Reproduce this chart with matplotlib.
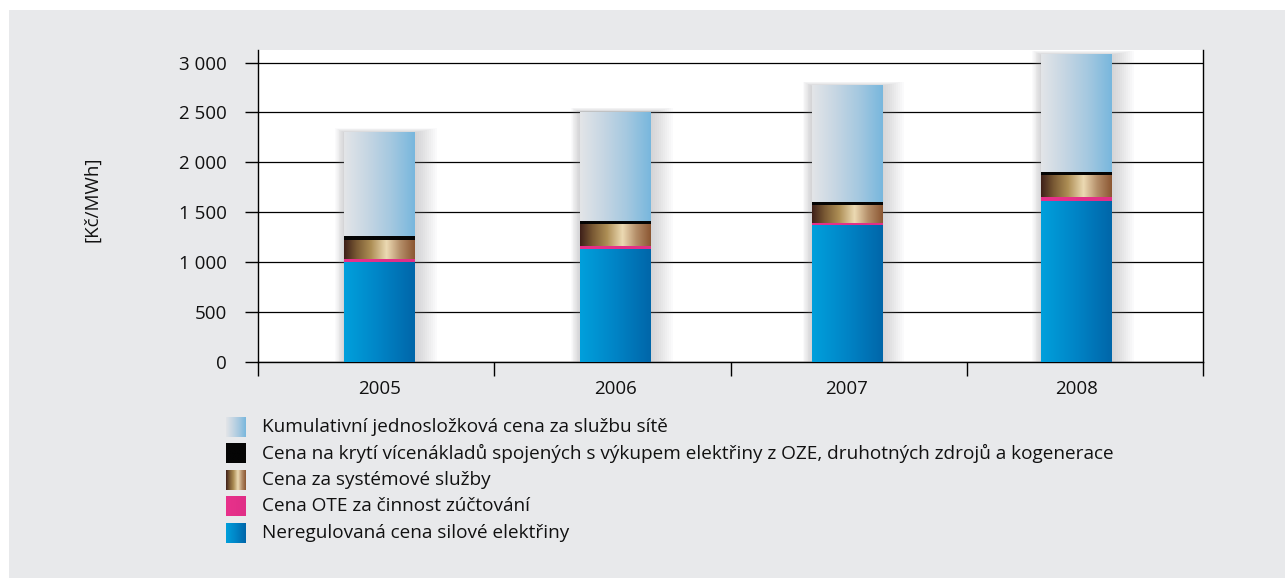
import matplotlib
matplotlib.use("Agg")
import matplotlib.pyplot as plt
import matplotlib.patches as mp
from matplotlib.colors import LinearSegmentedColormap
from matplotlib.ticker import FuncFormatter, FixedLocator
import numpy as np

plt.rcParams.update({
    "font.family": ["Open Sans", "DejaVu Sans"],
    "font.size": 13,
})

# ── Data (Kč/MWh) ────────────────────────────────────────────
years = ["2005", "2006", "2007", "2008"]
silova = [1000, 1131, 1372, 1612]     # Neregulovaná cena silové elektřiny
ote = [33, 33, 17, 44]                # Cena OTE za činnost zúčtování
systemove = [188, 218, 186, 217]      # Cena za systémové služby
oze = [43, 30, 27, 30]                # Cena na krytí vícenákladů ... OZE
site = [1034, 1093, 1164, 1174]       # Kumulativní jednosložková cena za službu sítě

labels = [
    "Kumulativní jednosložková cena za službu sítě",
    "Cena na krytí vícenákladů spojených s výkupem elektřiny z OZE, druhotných zdrojů a kogenerace",
    "Cena za systémové služby",
    "Cena OTE za činnost zúčtování",
    "Neregulovaná cena silové elektřiny",
]

# ── Gradient colour maps ─────────────────────────────────────
cm_blue = LinearSegmentedColormap.from_list("b", ["#00a0dc", "#0084c6", "#0066a9"])
cm_site = LinearSegmentedColormap.from_list("s", ["#e3e5e8", "#c6d6e3", "#a4c8e0", "#78b7dd"])
cm_brown = LinearSegmentedColormap.from_list("br", [
    (0.0, "#3e2019"), (0.18, "#7a5a34"), (0.38, "#ad8e55"), (0.6, "#ecdab3"),
    (0.8, "#b38c67"), (1.0, "#8b5632")])
cm_black = LinearSegmentedColormap.from_list("k", ["#050505", "#050505"])
cm_pink = LinearSegmentedColormap.from_list("p", ["#e8318b", "#e02f87"])

series = [
    (silova, cm_blue),
    (ote, cm_pink),
    (systemove, cm_brown),
    (oze, cm_black),
    (site, cm_site),
]
legend_maps = [cm_site, cm_black, cm_brown, cm_pink, cm_blue]

W, H = 1285, 578
fig = plt.figure(figsize=(W / 100, H / 100), dpi=100, facecolor="white")
fig.add_artist(mp.Rectangle((9 / W, 0), 1, 1 - 10 / H, transform=fig.transFigure,
                            facecolor="#e8e9eb", edgecolor="none", zorder=-5))

ax = fig.add_axes([258 / W, 1 - 361.7 / H, 945 / W, 311.7 / H])
ax.set_facecolor("white")

YMAX = 3127
x = np.arange(len(years))
# bars are not exactly centred in their slots in the original
xpos = x + np.array([0.015, 0.012, -0.007, -0.035])
bw = 0.30
grad = np.linspace(0, 1, 256).reshape(1, -1)

px_x = 945 / 4.0          # pixels per category unit
px_y = 311.7 / YMAX       # pixels per Kč/MWh

bottom = np.zeros(len(years))
for vals, cmap in series:
    bars = ax.bar(xpos, vals, bw, bottom=bottom, color="none", edgecolor="none", zorder=4)
    for b in bars:
        x0, y0 = b.get_x(), b.get_y()
        ax.imshow(grad, cmap=cmap, aspect="auto", zorder=4,
                  extent=(x0, x0 + b.get_width(), y0, y0 + b.get_height()))
    bottom = bottom + np.array(vals)

# soft drop shadows behind bars
for xi, top in zip(xpos, bottom):
    for k in range(1, 12):
        e = 2.0 * k
        ax.add_patch(mp.Rectangle((xi - bw / 2 - (e * 0.4) / px_x, 0),
                                  bw + (e * 1.4) / px_x, top + (e * 0.2) / px_y,
                                  facecolor="#8a8c90", edgecolor="none",
                                  alpha=0.035, zorder=3))

ax.set_xlim(-0.5, 3.5)
ax.set_ylim(0, YMAX)

ax.yaxis.set_major_locator(FixedLocator(np.arange(0, 3001, 500)))
ax.yaxis.set_major_formatter(FuncFormatter(lambda v, p: f"{v:,.0f}".replace(",", " ")))
ax.grid(axis="y", color="black", lw=0.9, zorder=2)
ax.set_axisbelow(True)

ax.xaxis.set_major_locator(FixedLocator(np.arange(-0.5, 3.6, 1)))
ax.xaxis.set_major_formatter(FuncFormatter(lambda v, p: ""))
ax.xaxis.set_minor_locator(FixedLocator(xpos))
ax.set_xticklabels(years, minor=True)
ax.tick_params(axis="x", which="major", direction="out", length=10, width=1, color="black")
ax.tick_params(axis="x", which="minor", length=0, pad=13, labelsize=13.5, labelcolor="#111111")
ax.tick_params(axis="y", direction="out", length=9.5, width=1, pad=13,
               labelsize=13.5, labelcolor="#111111")

for s in ["left", "bottom", "right"]:
    ax.spines[s].set_color("black")
    ax.spines[s].set_linewidth(1)
ax.spines["top"].set_visible(False)
ax.spines["right"].set_bounds(0, YMAX)

fig.text(92 / W, 1 - 199 / H, "[Kč/MWh]", rotation=90, ha="center", va="center",
         fontsize=13.5, color="#111111")

# ── Legend (drawn manually, gradient swatches) ───────────────
rows = [426.7, 453.2, 479.7, 506.2, 532.7]
for yc, cmap, lab in zip(rows, legend_maps, labels):
    sw = fig.add_axes([226 / W, 1 - (yc + 10) / H, 20 / W, 20 / H])
    sw.imshow(grad, cmap=cmap, aspect="auto")
    sw.axis("off")
    fig.text(262 / W, 1 - yc / H, lab, ha="left", va="center",
             fontsize=13.7, color="#111111")

fig.savefig("out.png", dpi=100)
plt.close(fig)
